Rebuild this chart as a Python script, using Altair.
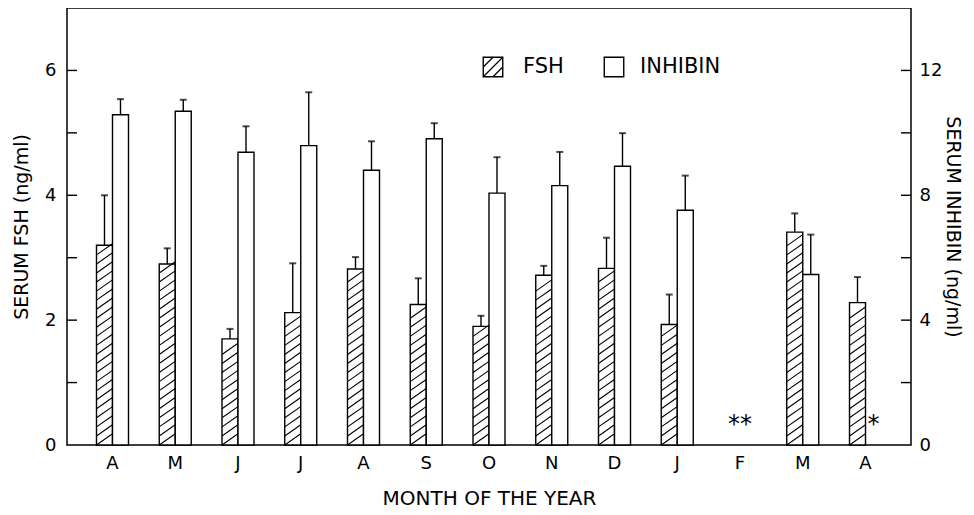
import altair as alt
import pandas as pd

# ---- data ----
months = ["A", "M", "J", "J", "A", "S", "O", "N", "D", "J", "F", "M", "A"]
fsh = [3.20, 2.90, 1.70, 2.12, 2.82, 2.25, 1.90, 2.72, 2.83, 1.93, None, 3.41, 2.28]
fsh_sem = [0.80, 0.25, 0.16, 0.79, 0.19, 0.42, 0.17, 0.15, 0.49, 0.48, None, 0.30, 0.41]
inhibin = [10.58, 10.69, 9.38, 9.59, 8.80, 9.81, 8.07, 8.31, 8.93, 7.52, None, 5.46, None]
inhibin_sem = [0.50, 0.37, 0.83, 1.71, 0.93, 0.50, 1.15, 1.08, 1.06, 1.11, None, 1.28, None]
series_names = ["FSH", "INHIBIN"]

# asterisks marking missing samples
note_month = [10, 12]
note_text = ["**", "*"]
note_level = [0.37, 0.37]  # in FSH units

fsh_minor = [1, 2, 3, 4, 5, 6]
inh_minor = [2, 4, 6, 8, 10, 12]

FONT = "DejaVu Sans"

W, H = 844, 437

fsh_df = pd.DataFrame({
    "idx": [i for i, v in enumerate(fsh) if v is not None],
    "series": "FSH",
    "value": [v for v in fsh if v is not None],
    "sem": [s for s in fsh_sem if s is not None],
})
inh_df = pd.DataFrame({
    "idx": [i for i, v in enumerate(inhibin) if v is not None],
    "series": "INHIBIN",
    "value": [v for v in inhibin if v is not None],
    "sem": [s for s in inhibin_sem if s is not None],
})
notes_df = pd.DataFrame({"idx": note_month, "text": note_text, "level": note_level})
fsh_tick_df = pd.DataFrame({"t": fsh_minor})
inh_tick_df = pd.DataFrame({"t": inh_minor})
legend_df = pd.DataFrame({"label": series_names})

label_expr = "[" + ",".join("'%s'" % m for m in months) + "][datum.value]"

x_scale = alt.Scale(domain=list(range(len(months))), paddingInner=0.49, paddingOuter=0.47)
x_axis = alt.Axis(title="MONTH OF THE YEAR", labelExpr=label_expr, labelAngle=0,
                  ticks=False, domain=False, labelPadding=9, titlePadding=16,
                  labelFontSize=18, titleFontSize=20, labelFont=FONT, titleFont=FONT,
                  labelColor="black", titleColor="black", titleFontWeight="normal")
X = alt.X("idx:O", scale=x_scale, axis=x_axis)
off_scale = alt.Scale(domain=series_names, paddingInner=0, paddingOuter=0)
XO = alt.XOffset("series:N", scale=off_scale)

fsh_scale = alt.Scale(domain=[0, 7], nice=False, zero=True)
inh_scale = alt.Scale(domain=[0, 14], nice=False, zero=True)
fsh_axis = alt.Axis(title="SERUM FSH (ng/ml)", values=[0, 2, 4, 6], ticks=False, domain=False,
                    grid=False, labelPadding=11, titlePadding=13, labelFontSize=18,
                    titleFontSize=19, labelFont=FONT, titleFont=FONT, labelColor="black",
                    titleColor="black", titleFontWeight="normal")
inh_axis = alt.Axis(title="SERUM INHIBIN (ng/ml)", orient="right", values=[0, 4, 8, 12],
                    ticks=False, domain=False, grid=False, labelPadding=8, titlePadding=1,
                    labelFontSize=18, titleFontSize=19, labelFont=FONT, titleFont=FONT,
                    labelColor="black", titleColor="black", titleFontWeight="normal")

# ---------------- FSH group ----------------
fsh_base = alt.Chart(fsh_df)
fsh_bars = fsh_base.mark_bar(fill="white", stroke="black", strokeWidth=1.4).encode(
    x=X, xOffset=XO, y=alt.Y("value:Q", scale=fsh_scale, axis=fsh_axis))
fsh_hatch = fsh_base.transform_calculate(
    hy="sequence(0.09, datum.value - 0.05, 0.145)"
).transform_flatten(["hy"]).mark_point(
    shape="M-1,0.7L1,-0.7", size=256, filled=False, stroke="black", strokeWidth=1.1, opacity=1
).encode(x=X, xOffset=XO, y=alt.Y("hy:Q", scale=fsh_scale, axis=fsh_axis))
fsh_err = fsh_base.transform_calculate(top="datum.value + datum.sem").mark_rule(
    color="black", strokeWidth=1.4).encode(
    x=X, xOffset=XO, y=alt.Y("value:Q", scale=fsh_scale, axis=fsh_axis), y2="top:Q")
fsh_cap = fsh_base.transform_calculate(top="datum.value + datum.sem").mark_tick(
    color="black", size=7, thickness=2).encode(
    x=X, xOffset=XO, y=alt.Y("top:Q", scale=fsh_scale, axis=fsh_axis))

notes_pair = alt.Chart(notes_df).transform_filter("datum.text == '**'").mark_text(
    fontSize=24, font=FONT, baseline="middle", dy=3, color="black").encode(
    x=X, y=alt.Y("level:Q", scale=fsh_scale, axis=fsh_axis), text="text:N")
notes_single = alt.Chart(notes_df).transform_filter("datum.text == '*'").transform_calculate(
    series="'INHIBIN'").mark_text(
    fontSize=24, font=FONT, baseline="middle", dy=3, color="black").encode(
    x=X, xOffset=XO, y=alt.Y("level:Q", scale=fsh_scale, axis=fsh_axis), text="text:N")

left_ticks = alt.Chart(fsh_tick_df).mark_rule(color="black", strokeWidth=1.4).encode(
    x=alt.value(0), x2=alt.value(10), y=alt.Y("t:Q", scale=fsh_scale, axis=fsh_axis))

# legend (manual, laid out in pixels)
LEG_Y = 59
leg_fsh = legend_df[legend_df.label == "FSH"]
leg_inh = legend_df[legend_df.label == "INHIBIN"]
leg_fsh_box = alt.Chart(leg_fsh).mark_square(size=380, fill="white", stroke="black",
                                             strokeWidth=1.4, opacity=1).encode(
    x=alt.value(426), y=alt.value(LEG_Y))
leg_fsh_hatch = alt.Chart(leg_fsh).mark_point(
    shape="M-1,0L0,-1M-1,1L1,-1M0,1L1,0", size=380, filled=False, stroke="black",
    strokeWidth=1.2, opacity=1).encode(x=alt.value(426), y=alt.value(LEG_Y))
leg_fsh_text = alt.Chart(leg_fsh).mark_text(align="left", baseline="middle", fontSize=21,
                                            font=FONT, color="black").encode(
    x=alt.value(456), y=alt.value(LEG_Y), text="label:N")
leg_inh_box = alt.Chart(leg_inh).mark_square(size=380, fill="white", stroke="black",
                                             strokeWidth=1.4, opacity=1).encode(
    x=alt.value(547), y=alt.value(LEG_Y))
leg_inh_text = alt.Chart(leg_inh).mark_text(align="left", baseline="middle", fontSize=21,
                                            font=FONT, color="black").encode(
    x=alt.value(573), y=alt.value(LEG_Y), text="label:N")

fsh_group = alt.layer(fsh_bars, fsh_hatch, fsh_err, fsh_cap, notes_pair, notes_single,
                      left_ticks, leg_fsh_box, leg_fsh_hatch, leg_fsh_text,
                      leg_inh_box, leg_inh_text)

# ---------------- INHIBIN group ----------------
inh_base = alt.Chart(inh_df)
inh_bars = inh_base.mark_bar(fill="white", stroke="black", strokeWidth=1.4).encode(
    x=X, xOffset=XO, y=alt.Y("value:Q", scale=inh_scale, axis=inh_axis))
inh_err = inh_base.transform_calculate(top="datum.value + datum.sem").mark_rule(
    color="black", strokeWidth=1.4).encode(
    x=X, xOffset=XO, y=alt.Y("value:Q", scale=inh_scale, axis=inh_axis), y2="top:Q")
inh_cap = inh_base.transform_calculate(top="datum.value + datum.sem").mark_tick(
    color="black", size=7, thickness=2).encode(
    x=X, xOffset=XO, y=alt.Y("top:Q", scale=inh_scale, axis=inh_axis))
right_ticks = alt.Chart(inh_tick_df).mark_rule(color="black", strokeWidth=1.4).encode(
    x=alt.value(W - 10), x2=alt.value(W), y=alt.Y("t:Q", scale=inh_scale, axis=inh_axis))

inh_group = alt.layer(inh_bars, inh_err, inh_cap, right_ticks)

chart = alt.layer(fsh_group, inh_group).resolve_scale(y="independent").properties(
    width=W, height=H,
    autosize=alt.AutoSizeParams(type="none"),
    padding={"left": 59, "top": 0, "right": 55, "bottom": 66},
    background="white",
).configure_view(stroke="black", strokeWidth=1.5).configure_axis(grid=False)

chart.save("out.html", embed_options={"renderer": "svg", "actions": False})
